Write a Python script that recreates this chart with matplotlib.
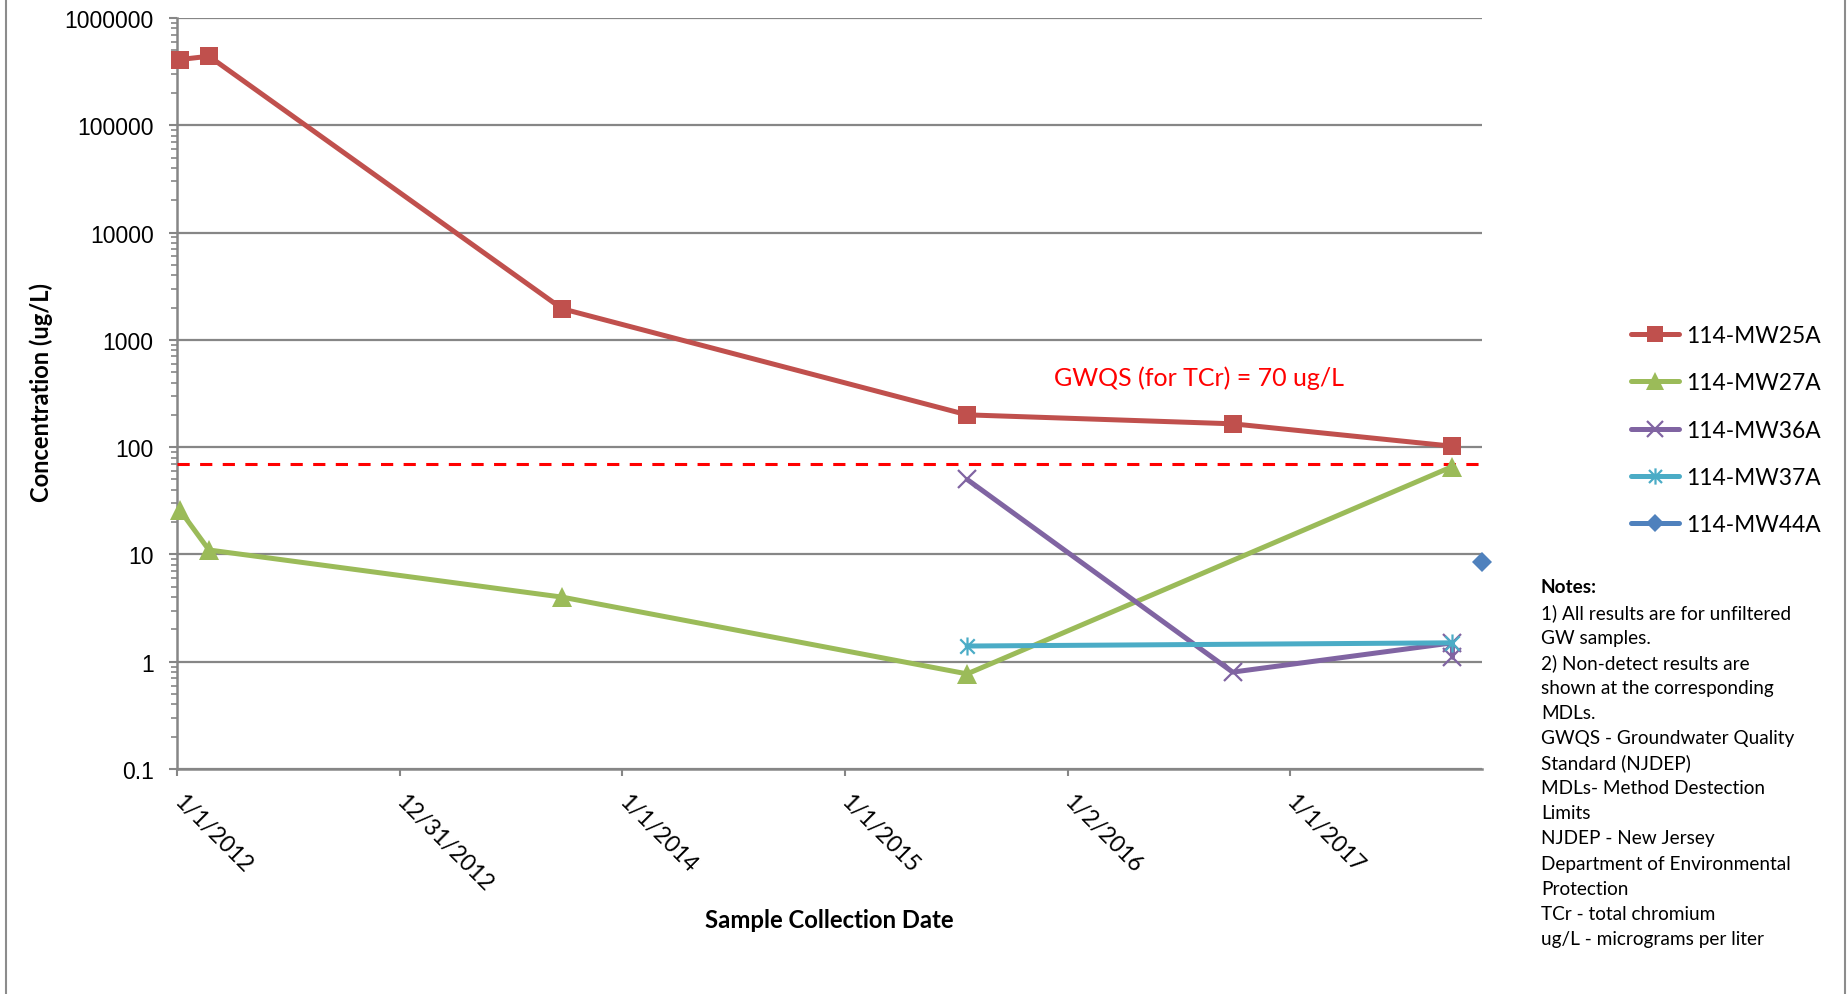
import matplotlib
matplotlib.use("Agg")
import matplotlib.pyplot as plt
from matplotlib.lines import Line2D
from matplotlib.path import Path
from matplotlib.ticker import FixedLocator, FixedFormatter, LogLocator, NullFormatter
import numpy as np

# ---- data -------------------------------------------------------------
mw25a_dates = ["2012-01-05", "2012-02-22", "2013-09-24", "2015-07-21", "2016-09-29", "2017-09-25"]
mw25a_vals = [410000, 440000, 1950, 200, 165, 102]

mw27a_dates = ["2012-01-05", "2012-02-22", "2013-09-24", "2015-07-21", "2017-09-25"]
mw27a_vals = [26, 11, 4.0, 0.77, 66]

mw36a_dates = ["2015-07-21", "2016-09-29", "2017-09-25", "2017-09-25"]
mw36a_vals = [50, 0.8, 1.5, 1.1]

mw37a_dates = ["2015-07-21", "2017-09-25"]
mw37a_vals = [1.4, 1.5]

mw44a_dates = ["2017-11-12"]
mw44a_vals = [8.5]

series_names = ["114-MW25A", "114-MW27A", "114-MW36A", "114-MW37A", "114-MW44A"]

gwqs_value = 70
gwqs_label = "GWQS (for TCr) = 70 ug/L"

x_tick_dates = ["2012-01-01", "2012-12-31", "2014-01-01", "2015-01-01", "2016-01-02", "2017-01-01"]
x_tick_labels = ["1/1/2012", "12/31/2012", "1/1/2014", "1/1/2015", "1/2/2016", "1/1/2017"]
y_tick_labels = ["0.1", "1", "10", "100", "1000", "10000", "100000", "1000000"]

notes_lines = [
    "1) All results are for unfiltered",
    "GW samples.",
    "2) Non-detect results are",
    "shown at the corresponding",
    "MDLs.",
    "GWQS - Groundwater Quality",
    "Standard (NJDEP)",
    "MDLs- Method Destection",
    "Limits",
    "NJDEP - New Jersey",
    "Department of Environmental",
    "Protection",
    "TCr - total chromium",
    "ug/L - micrograms per liter",
]

# ---- styling ----------------------------------------------------------
W, H = 1849, 995
GRID = "#868686"
TEXT_FONT = ["Lato", "DejaVu Sans"]
NUM_FONT = ["Liberation Sans", "DejaVu Sans"]

# Excel-style 6-arm asterisk marker
star6 = Path([(-1, -1), (1, 1), (-1, 1), (1, -1), (0, -1.25), (0, 1.25)],
             [Path.MOVETO, Path.LINETO, Path.MOVETO, Path.LINETO, Path.MOVETO, Path.LINETO])

styles = [
    dict(color="#C0504D", marker="s", ms=13.5, mew=0),
    dict(color="#9BBB59", marker="^", ms=14, mew=0),
    dict(color="#8064A2", marker="x", ms=13, mew=1.6),
    dict(color="#4BACC6", marker=star6, ms=13, mew=1.6),
    dict(color="#4F81BD", marker="D", ms=10.5, mew=0),
]

fig = plt.figure(figsize=(W / 100, H / 100), dpi=100)
fig.patch.set_facecolor("white")

left, right, top, bottom = 177.3, 1481.7, 19, 770
ax = fig.add_axes([left / W, 1 - bottom / H, (right - left) / W, (bottom - top) / H])

def to_dates(lst):
    return np.array(lst, dtype="datetime64[D]")

all_series = [
    (mw25a_dates, mw25a_vals),
    (mw27a_dates, mw27a_vals),
    (mw36a_dates, mw36a_vals),
    (mw37a_dates, mw37a_vals),
    (mw44a_dates, mw44a_vals),
]

# threshold line
x_min = np.datetime64("2012-01-01")
x_max = np.datetime64(mw44a_dates[-1])
gw_line = ax.axhline(gwqs_value, color="#FF0000", lw=2.2, zorder=3)
gw_line.set_dashes([4.0, 3.4])

for (d, v), name, st in zip(all_series, series_names, styles):
    ax.plot(to_dates(d), v, color=st["color"], lw=3.6, marker=st["marker"],
            ms=st["ms"], mew=st["mew"], mec=st["color"], mfc=st["color"],
            solid_joinstyle="round", solid_capstyle="round", zorder=4,
            clip_on=False, label=name)

ax.text(np.datetime64("2016-08-05"), 447, gwqs_label, color="#FF0000",
        fontsize=18, family=TEXT_FONT, ha="center", va="center")

# axes
ax.set_yscale("log")
ax.set_ylim(0.1, 1e6)
ax.set_xlim(x_min, x_max)

y_ticks = [float(s) for s in y_tick_labels]
ax.yaxis.set_major_locator(FixedLocator(y_ticks))
ax.yaxis.set_major_formatter(FixedFormatter(y_tick_labels))
ax.yaxis.set_minor_locator(LogLocator(base=10, subs=np.arange(2, 10), numticks=20))
ax.yaxis.set_minor_formatter(NullFormatter())

ax.set_xticks(to_dates(x_tick_dates))
ax.set_xticklabels(x_tick_labels, rotation=-45, ha="left", va="center",
                   rotation_mode="anchor", family=TEXT_FONT, fontsize=16.5)

for lab in ax.get_yticklabels():
    lab.set_family(NUM_FONT)
    lab.set_fontsize(16.5)

ax.tick_params(axis="y", which="major", length=6, width=1.5, color=GRID, pad=11)
ax.tick_params(axis="y", which="minor", length=4, width=1.2, color=GRID)
ax.tick_params(axis="x", which="major", length=5, width=1.5, color=GRID, pad=16)
ax.tick_params(axis="x", which="minor", length=0)

ax.grid(True, axis="y", which="major", color=GRID, lw=1.6, zorder=1)
ax.set_axisbelow(True)
for s in ["top", "right"]:
    ax.spines[s].set_visible(False)
for s in ["left", "bottom"]:
    ax.spines[s].set_color(GRID)
    ax.spines[s].set_linewidth(1.8)

# axis titles
fig.text(41 / W, 1 - 393 / H, "Concentration (ug/L)", rotation=90, ha="center",
         va="center", fontsize=17, fontweight="bold", family=TEXT_FONT)
fig.text(829.5 / W, 1 - 921 / H, "Sample Collection Date", ha="center",
         va="center", fontsize=17.2, fontweight="bold", family=TEXT_FONT)

# legend
handles = [Line2D([], [], color=st["color"], lw=3.6, marker=st["marker"], ms=st["ms"] * 0.9,
                  mew=st["mew"], mec=st["color"], mfc=st["color"], solid_capstyle="round")
           for st in styles]
fig.legend(handles, series_names, loc="center left",
           bbox_to_anchor=(1631 / W, 1 - 431 / H), frameon=False,
           prop=dict(family=TEXT_FONT, size=16.4), handlelength=2.1,
           handletextpad=0.3, labelspacing=1.16, borderpad=0, borderaxespad=0)

# notes block
fig.text(1541 / W, 1 - 588 / H, "Notes:", ha="left", va="center", fontsize=13.7,
         fontweight="bold", family=TEXT_FONT)
for i, line in enumerate(notes_lines):
    fig.text(1541 / W, 1 - (588 + 25.1 * (i + 1)) / H, line, ha="left",
             va="center", fontsize=13.7, family=TEXT_FONT)

# chart frame edges
for xf in (6, 1845):
    fig.add_artist(Line2D([xf / W, xf / W], [0, 1], transform=fig.transFigure,
                          color="#8C8C8C", lw=1.5))

fig.savefig("out.png", dpi=100, facecolor="white")
